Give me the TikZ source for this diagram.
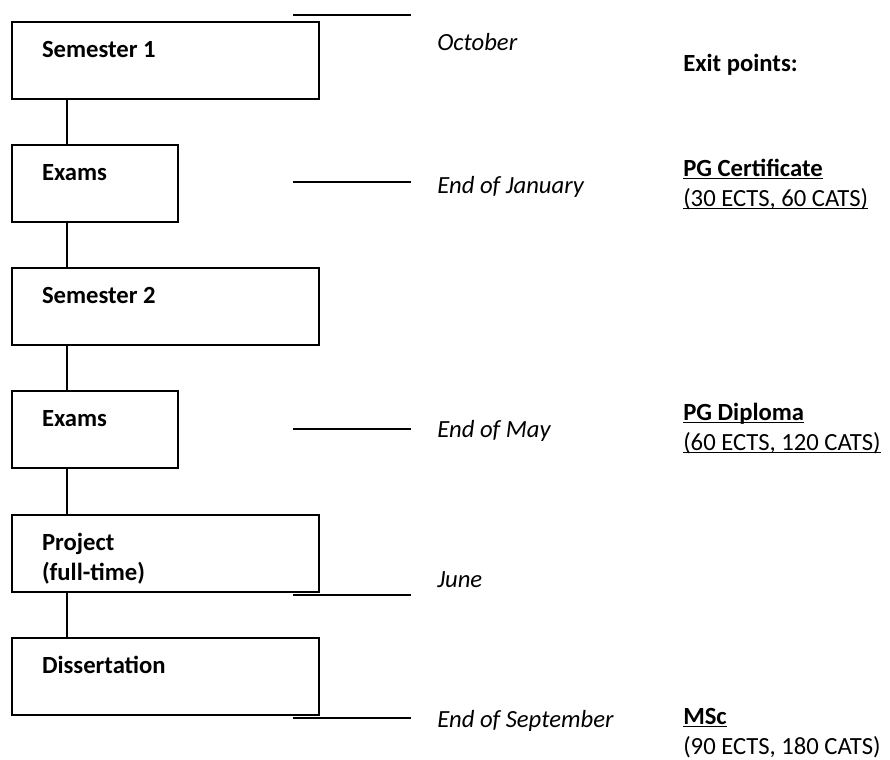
\documentclass[tikz,border=0pt]{standalone}
\usepackage{fontspec}
\setmainfont{Carlito}
\usepackage{tikz}
\newcommand{\exitul}[1]{\leavevmode\setbox0\hbox{#1}\rlap{\copy0}\rule[-2.2pt]{\wd0}{1pt}}
\tikzstyle{stage} = [draw, line width=1.5pt, rectangle, anchor=north west, inner xsep=22.5pt, inner ysep=0pt, text height=26.6pt, text depth=31.15pt, align=flush left, font=\fontsize{18.5}{22.5}\selectfont\bfseries]
\tikzstyle{wide} = [text width=185.25pt]
\tikzstyle{narrow} = [text width=79.5pt]
\tikzstyle{link} = [line width=1pt]
\tikzstyle{dateline} = [line width=1.5pt]
\tikzstyle{date} = [anchor=base west, inner sep=0pt, font=\fontsize{18.5}{22.5}\selectfont\itshape]
\tikzstyle{exit} = [anchor=base west, inner sep=0pt, text width=180pt, align=flush left, font=\fontsize{18.5}{22.5}\selectfont]

\begin{document}
\begin{tikzpicture}[x=0.75pt, y=-0.75pt]
    \useasboundingbox (0,0) rectangle (890,760);
    \node[stage, wide] (sem1) at (11,21) {Semester 1};
    \node[stage, narrow] (exams1) at (11,144) {Exams};
    \node[stage, wide] (sem2) at (11,267) {Semester 2};
    \node[stage, narrow] (exams2) at (11,390) {Exams};
    \node[stage, wide] (proj) at (11,514) {Project\\(full-time)};
    \node[stage, wide] (diss) at (11,637) {Dissertation};
    \draw[link] ([xshift=42pt]sem1.south west) -- ([xshift=42pt]exams1.north west);
    \draw[link] ([xshift=42pt]exams1.south west) -- ([xshift=42pt]sem2.north west);
    \draw[link] ([xshift=42pt]sem2.south west) -- ([xshift=42pt]exams2.north west);
    \draw[link] ([xshift=42pt]exams2.south west) -- ([xshift=42pt]proj.north west);
    \draw[link] ([xshift=42pt]proj.south west) -- ([xshift=42pt]diss.north west);
    \node[date] (oct) at (437,50.5) {October};
    \node[date] (jan) at (437,193) {End of January};
    \node[date] (may) at (437,437) {End of May};
    \node[date] (jun) at (437,587) {June};
    \node[date] (sep) at (437,727) {End of September};
    \draw[dateline] (293,15) -- (411,15);
    \draw[dateline] (293,182) -- (411,182);
    \draw[dateline] (293,429) -- (411,429);
    \draw[dateline] (293,595) -- (411,595);
    \draw[dateline] (293,718) -- (411,718);
    \node[exit] (points) at (683,71) {\textbf{Exit points:}};
    \node[exit] (cert) at (683,176) {\exitul{\textbf{PG Certificate}}\\\exitul{(30 ECTS, 60 CATS)}};
    \node[exit] (dipl) at (683,420) {\exitul{\textbf{PG Diploma}}\\\exitul{(60 ECTS, 120 CATS)}};
    \node[exit] (msc) at (683,724) {\exitul{\textbf{MSc}}\\(90 ECTS, 180 CATS)};
\end{tikzpicture}
\end{document}
